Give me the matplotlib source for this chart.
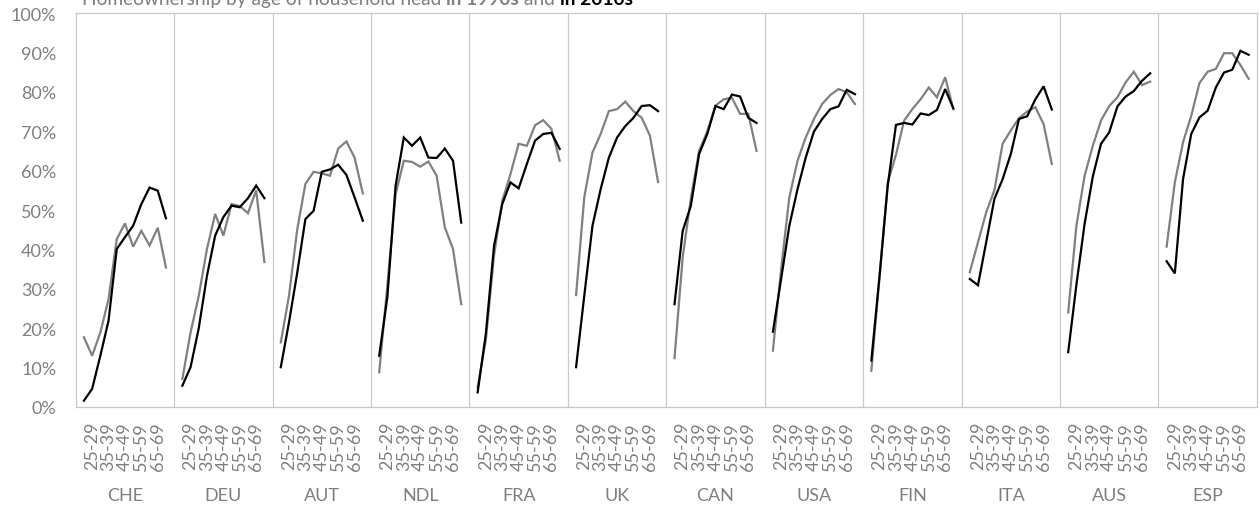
import matplotlib
matplotlib.use('Agg')
import matplotlib.pyplot as plt
from matplotlib.ticker import PercentFormatter
from matplotlib.transforms import blended_transform_factory

plt.rcParams['font.family'] = ['Lato', 'DejaVu Sans']

countries = ['CHE', 'DEU', 'AUT', 'NDL', 'FRA', 'UK', 'CAN', 'USA', 'FIN', 'ITA', 'AUS', 'ESP']
ages = ['20-24', '25-29', '30-34', '35-39', '40-44', '45-49',
        '50-54', '55-59', '60-64', '65-69', '70-74']
shown_ages = ['25-29', '35-39', '45-49', '55-59', '65-69']

# homeownership rate (%) by age of household head, one row per country
own_1990s = [
    [17.7, 13.0, 18.9, 27.4, 42.6, 46.6, 40.7, 44.7, 41.0, 45.5, 35.4],
    [7.1, 18.9, 28.2, 40.1, 49.0, 43.5, 51.5, 51.0, 49.2, 55.0, 36.8],
    [16.4, 28.2, 45.0, 56.6, 59.7, 59.3, 58.7, 65.6, 67.4, 63.3, 54.2],
    [8.8, 31.0, 54.0, 62.5, 62.2, 61.0, 62.3, 58.7, 45.6, 40.1, 26.1],
    [5.0, 17.0, 38.5, 52.3, 59.1, 66.8, 66.3, 71.5, 72.8, 70.6, 62.5],
    [28.4, 53.2, 64.6, 69.3, 75.1, 75.6, 77.5, 75.1, 73.4, 68.9, 57.1],
    [12.4, 38.0, 53.0, 65.0, 70.0, 76.5, 78.1, 78.5, 74.4, 74.4, 65.0],
    [14.3, 35.0, 53.2, 62.5, 68.4, 73.1, 76.9, 79.2, 80.7, 79.9, 76.9],
    [9.2, 33.0, 57.0, 64.0, 72.7, 75.6, 78.1, 81.1, 78.6, 83.7, 75.6],
    [34.2, 41.8, 49.4, 55.0, 66.8, 70.2, 73.3, 75.0, 76.1, 71.8, 61.7],
    [24.0, 46.0, 58.7, 66.3, 72.7, 76.4, 78.6, 82.4, 85.1, 81.7, 82.6],
    [40.7, 57.0, 67.2, 73.9, 82.2, 85.1, 85.8, 89.8, 89.8, 86.8, 83.3],
]
own_2010s = [
    [1.6, 4.6, 13.0, 21.9, 40.1, 43.1, 46.0, 51.5, 55.7, 54.9, 47.9],
    [5.4, 10.1, 20.0, 33.3, 43.5, 48.2, 51.1, 50.7, 53.0, 56.2, 53.0],
    [10.1, 21.5, 34.0, 47.7, 49.8, 59.7, 60.3, 61.5, 58.9, 53.2, 47.3],
    [13.0, 28.0, 56.2, 68.4, 66.3, 68.4, 63.3, 63.2, 65.6, 62.5, 46.8],
    [3.7, 18.6, 40.9, 51.5, 57.0, 55.5, 61.7, 67.6, 69.3, 69.6, 65.5],
    [10.1, 28.2, 46.0, 55.3, 63.3, 68.4, 71.3, 73.4, 76.4, 76.6, 75.1],
    [26.1, 44.7, 51.1, 64.2, 69.3, 76.4, 75.6, 79.3, 78.8, 73.4, 72.1],
    [19.1, 32.5, 46.0, 55.3, 63.3, 69.9, 73.1, 75.6, 76.3, 80.5, 79.4],
    [11.8, 33.3, 56.2, 71.6, 72.1, 71.7, 74.5, 74.1, 75.4, 80.7, 75.8],
    [32.5, 30.9, 41.8, 52.8, 57.8, 64.2, 73.1, 73.8, 78.1, 81.4, 75.5],
    [13.9, 31.0, 46.5, 58.5, 66.8, 69.7, 76.3, 78.8, 80.2, 82.8, 84.7],
    [37.0, 33.9, 57.8, 69.3, 73.5, 75.2, 81.1, 84.9, 85.6, 90.4, 89.4],
]

GRAY = '#808080'
FRAME = '#C8C8C8'
TXT = '#7F7F7F'
slot = len(ages) + 1  # one empty step on each side of a country block

fig = plt.figure(figsize=(12.6, 5.06), dpi=100)
ax = fig.add_axes([0.0601, 0.1937, 0.9374, 0.7786])

ticks, ticklabels = [], []
for i, c in enumerate(countries):
    xs = [i * slot + 1 + k for k in range(len(ages))]
    ax.plot(xs, own_1990s[i], color=GRAY, lw=1.6, solid_joinstyle='miter')
    ax.plot(xs, own_2010s[i], color='black', lw=1.6, solid_joinstyle='miter')
    for k, a in enumerate(ages):
        if a in shown_ages:
            ticks.append(xs[k])
            ticklabels.append(a)
    if i > 0:
        ax.axvline(i * slot, color=FRAME, lw=0.9)

ax.set_xlim(0, slot * len(countries))
ax.set_ylim(0, 100)
ax.set_xticks(ticks)
ax.set_xticklabels(ticklabels, rotation=90, color=TXT, fontsize=13)
ax.set_yticks(range(0, 101, 10))
ax.yaxis.set_major_formatter(PercentFormatter(decimals=0))
ax.tick_params(axis='y', length=0, pad=14, labelcolor=TXT, labelsize=13)
ax.tick_params(axis='x', length=0, pad=10)
for s in ax.spines.values():
    s.set_color(FRAME)
    s.set_linewidth(0.9)

tr = blended_transform_factory(ax.transData, ax.transAxes)
for i, c in enumerate(countries):
    ax.text(i * slot + slot / 2, -0.2234, c, transform=tr, ha='center',
            va='center', color=TXT, fontsize=13)

# title, partly cut off at the top edge like the source
parts = [('Homeownership by age of household head ', 'normal', TXT),
         ('in 1990s', 'bold', GRAY),
         (' and ', 'normal', TXT),
         ('in 2010s', 'bold', 'black')]
renderer = fig.canvas.get_renderer()
x0 = 82 / 1260
for txt, w, col in parts:
    t = fig.text(x0, 1 - 5 / 506, txt, fontsize=13.75, fontweight=w, color=col,
                 va='baseline', ha='left')
    bb = t.get_window_extent(renderer)
    x0 += bb.width / 1260

fig.savefig('out.png', dpi=100)
